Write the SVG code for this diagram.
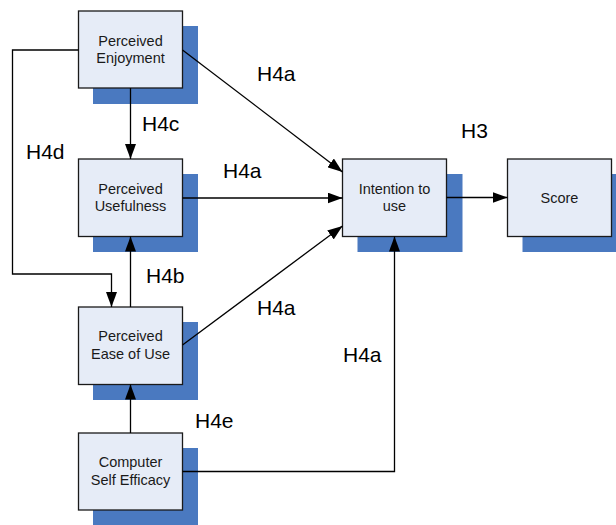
<svg xmlns="http://www.w3.org/2000/svg" width="616" height="525" viewBox="0 0 616 525">
<style>
.sh{fill:#4A79C0}
.bx{fill:#E6ECF7;stroke:#1a1a1a;stroke-width:1.3}
.t{font-family:"Liberation Sans",Arial,sans-serif;font-size:14.5px;fill:#1a1a1a;text-anchor:middle}
.lb{font-family:"Liberation Sans",Arial,sans-serif;font-size:21px;fill:#000}
.c{fill:none;stroke:#000;stroke-width:1.3}
</style>
<defs>
<marker id="ah" markerUnits="userSpaceOnUse" markerWidth="15" markerHeight="11" refX="15" refY="5.5" orient="auto">
<path d="M0,0 L15,5.5 L0,11 z" fill="#000"/>
</marker>
</defs>
<rect width="616" height="525" fill="#fff"/>
<g id="enjoyment">
<rect class="sh" x="93" y="26" width="105" height="78"/>
<rect class="bx" x="78.5" y="11" width="104" height="77"/>
<text class="t" x="130.5" y="45.5">Perceived</text>
<text class="t" x="130.5" y="63">Enjoyment</text>
</g>
<g id="usefulness">
<rect class="sh" x="93" y="174" width="105" height="78"/>
<rect class="bx" x="78.5" y="159" width="104" height="77.5"/>
<text class="t" x="130.5" y="193.5">Perceived</text>
<text class="t" x="130.5" y="211">Usefulness</text>
</g>
<g id="ease">
<rect class="sh" x="93" y="322" width="105" height="78"/>
<rect class="bx" x="78.5" y="307" width="104" height="77.5"/>
<text class="t" x="130.5" y="341">Perceived</text>
<text class="t" x="130.5" y="358.5">Ease of Use</text>
</g>
<g id="cse">
<rect class="sh" x="93" y="448" width="105" height="80"/>
<rect class="bx" x="78.5" y="433" width="104" height="77"/>
<text class="t" x="130.5" y="467">Computer</text>
<text class="t" x="130.5" y="485">Self Efficacy</text>
</g>
<g id="intention">
<rect class="sh" x="357.5" y="174" width="105" height="78"/>
<rect class="bx" x="342.5" y="159" width="104" height="77.5"/>
<text class="t" x="394.5" y="193.5">Intention to</text>
<text class="t" x="394.5" y="211">use</text>
</g>
<g id="score">
<rect class="sh" x="522.5" y="174" width="105" height="78"/>
<rect class="bx" x="507.5" y="159" width="104" height="77.5"/>
<text class="t" x="559.5" y="202.5">Score</text>
</g>
<g id="connectors">
<path class="c" d="M130.5,88 L130.5,159" marker-end="url(#ah)"/>
<path class="c" d="M182.5,50 L342.5,172" marker-end="url(#ah)"/>
<path class="c" d="M182.5,198 L342.5,198" marker-end="url(#ah)"/>
<path class="c" d="M182.5,345 L342.5,226" marker-end="url(#ah)"/>
<path class="c" d="M130.5,307 L130.5,236.5" marker-end="url(#ah)"/>
<path class="c" d="M78.5,50 L12.5,50 L12.5,274 L111.5,274 L111.5,307" marker-end="url(#ah)"/>
<path class="c" d="M130.5,433 L130.5,384.5" marker-end="url(#ah)"/>
<path class="c" d="M182.5,471.5 L394.5,471.5 L394.5,236.5" marker-end="url(#ah)"/>
<path class="c" d="M446.5,197.5 L507.5,197.5" marker-end="url(#ah)"/>
</g>
<g id="labels">
<text class="lb" x="257" y="81">H4a</text>
<text class="lb" x="142" y="131">H4c</text>
<text class="lb" x="26" y="159">H4d</text>
<text class="lb" x="223" y="178">H4a</text>
<text class="lb" x="461" y="138">H3</text>
<text class="lb" x="146" y="283">H4b</text>
<text class="lb" x="257" y="315">H4a</text>
<text class="lb" x="343" y="362">H4a</text>
<text class="lb" x="195" y="428">H4e</text>
</g>
</svg>
